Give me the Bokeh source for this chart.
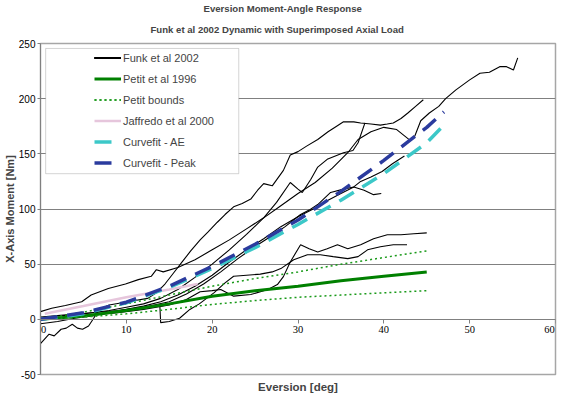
from bokeh.plotting import figure
from bokeh.models import (Range1d, FixedTicker, Title, Legend, LegendItem, BoxAnnotation,
                          LabelSet, ColumnDataSource)
from bokeh.embed import file_html
from bokeh.resources import INLINE

# ---------------- data ----------------
x_ticks = [0, 10, 20, 30, 40, 50, 60]
x_labels = ["0", "10", "20", "30", "40", "50", "60"]
y_ticks = [-50, 0, 50, 100, 150, 200, 250]
y_labels = ["-50", "0", "50", "100", "150", "200", "250"]
x_axis_crossing = 0

funk1_x = [0, 1.0, 1.6, 2.4, 3.0, 3.7, 4.3, 4.9, 5.6, 6.2, 6.8, 8.0, 9.5, 11.0, 12.5, 13.5, 14.5, 15.5,
           16.5, 17.5, 18.6, 19.5, 20.6, 21.5, 22.5, 23.5, 24.5, 25.3, 26.0, 27.0, 28.3, 29.1, 30.0, 31.0,
           32.3, 33.5, 34.5, 35.3, 36.5, 37.3, 38.5, 39.6, 40.4, 41.1, 42.0, 42.8, 43.7, 44.6]
funk1_y = [-22, -13.5, -15, -9, -8, -4.5, -8, -9, -6, 1, 9, 13, 15, 17, 19, 24, 32, 42,
           52, 62, 72, 79, 88, 95, 102, 105, 109, 117, 123, 121, 135, 149, 152, 157,
           163, 170, 175, 179, 179, 178, 177, 176, 177, 178, 182, 187, 193, 199]

funk2_x = [0, 1.3, 2.9, 4.8, 5.9, 7.9, 9.9, 11.4, 12.9, 13.5, 14.3, 16, 18, 20, 22, 24, 26, 28, 30,
           32, 34, 35.8, 37, 38.5, 40, 41.5, 42.3, 43.1, 43.6, 44.3, 45.3, 46.4, 47.2, 48.4, 50.0,
           51.2, 52.3, 53.5, 54.3, 55.1, 55.6]
funk2_y = [7, 10, 12.6, 16, 22, 28, 32, 36, 39, 45, 43, 47, 54, 63, 72, 82, 92, 103, 114,
           124, 137, 151, 163, 170, 174, 172, 167, 162, 166, 180, 187, 193, 200, 208, 217,
           223, 224, 229, 229, 226, 237]

funk3_x = [0, 2, 4, 6, 8, 10, 12, 14, 16, 18, 20, 22, 24, 26, 27.5, 29.1, 30, 30.5, 31.5, 32.3,
           33.4, 35.3, 36.4, 37, 37.8]
funk3_y = [1, 3, 4, 6, 8, 11, 14, 19, 27, 38, 50, 63, 77, 92, 106, 124, 118, 115, 127, 138,
           145, 151, 153, 160, 178]

funk4_x = [0, 3, 6, 9, 12, 15, 17, 19, 21, 23, 25, 27, 28.5, 30.3, 31.3, 32.3, 33.8, 35.3, 36.5,
           37.7, 38.8, 39.7]
funk4_y = [2, 4, 6, 8, 11, 16, 23, 32, 43, 55, 66, 76, 84, 95, 99, 104, 115, 118, 120,
           117, 113, 114]

funk5_x = [0, 2, 4, 6, 8, 10, 12, 14, 16, 18, 20, 22, 24, 26, 28, 30, 32, 33.5, 35, 36.5, 37.3,
           38.5, 39.8, 41, 42.4]
funk5_y = [-4, -2, 1, 3, 6, 9, 12, 16, 22, 30, 40, 52, 63, 73, 84, 93, 101, 108, 114, 120, 125,
           129, 134, 141, 148]

funk6_x = [0, 3, 6, 9, 12, 15, 17, 18.6, 20, 21, 22.5, 24.5, 26.5, 27.6, 28.3, 29.1, 30.3, 31.3,
           32.3, 33.4, 34.6, 35.8, 37.3, 38.8, 40.4, 42, 43.5, 45]
funk6_y = [1, 2, 4, 6, 9, 13, 18, 25, 26, 27, 21, 22.5, 27, 31.5, 38.7, 52, 67.6, 64,
           61, 64, 67.6, 64, 67.6, 73, 76.6, 76.6, 77.5, 78.4]

funk7_x = [13.9, 14.0, 15, 16.2, 17.4, 18.5, 20.2, 21.5, 22.5, 24, 25.6, 27, 28, 29.5, 31.1, 32.6,
           34.1, 35.8, 37, 38.1, 39.6, 41.1, 42.7]
funk7_y = [13, -3, -2, 1, 9, 14, 24, 33, 39, 40, 41, 43, 46, 54, 58.6, 58.6,
           56.8, 55, 56.8, 63, 65.8, 67.6, 67.6]

petit_x = [0, 5, 10, 15, 20, 25, 30, 35, 40, 45]
petit_y = [0, 3, 8, 14, 21, 26, 30, 35, 39, 43]
petit_upper = [0, 6.5, 14, 22, 30, 37, 43, 50, 56, 62]
petit_lower = [0, 2, 5, 9, 13.5, 17, 20, 22, 24, 26]

jaffredo_x = [0.5, 5, 10, 15, 18.3]
jaffredo_y = [5, 12, 20, 27, 32]

fit_x = [0, 5, 10, 15, 20, 25, 30, 35, 40, 45, 47]
fit_ae_y = [0, 5, 15, 29, 46, 65, 86, 108, 132, 160, 176]
fit_peak_y = [0, 6, 15.5, 30, 48, 68, 90, 116, 144, 174, 188]

# ---------------- figure ----------------
FONT = "Liberation Sans"

p = figure(width=560, height=396, output_backend="svg", toolbar_location=None,
           x_range=Range1d(0, 60), y_range=Range1d(-50, 250),
           min_border_left=0, min_border_right=5, min_border_top=41, min_border_bottom=22)

p.outline_line_color = "#a6a6a6"
p.outline_line_width = 1.5
p.background_fill_color = "white"

# y axis
p.yaxis.ticker = FixedTicker(ticks=y_ticks)
p.yaxis.major_label_overrides = dict(zip(y_ticks, y_labels))
p.yaxis.major_label_text_font = FONT
p.yaxis.major_label_text_font_size = "10px"
p.yaxis.major_label_text_color = "black"
p.yaxis.major_label_standoff = 2
p.yaxis.major_tick_out = 3
p.yaxis.major_tick_in = 0
p.yaxis.minor_tick_out = 0
p.yaxis.minor_tick_in = 0
p.yaxis.axis_line_color = "#808080"
p.yaxis.major_tick_line_color = "#808080"
p.yaxis.axis_label = "X-Axis Moment [Nm]"
p.yaxis.axis_label_text_font = FONT
p.yaxis.axis_label_text_font_size = "11px"
p.yaxis.axis_label_text_font_style = "bold"
p.yaxis.axis_label_standoff = 0

# x axis crossing at y = 0 (ticks from the axis, labels as a label set)
p.xaxis.fixed_location = x_axis_crossing
p.xaxis.ticker = FixedTicker(ticks=x_ticks)
p.xaxis.major_label_text_alpha = 0
p.xaxis.major_label_text_font_size = "10.5px"
p.xaxis.major_tick_out = 4
p.xaxis.major_tick_in = 0
p.xaxis.minor_tick_out = 0
p.xaxis.minor_tick_in = 0
p.xaxis.axis_line_color = "#808080"
p.xaxis.major_tick_line_color = "#808080"

# end labels nudged inward so the frame clip does not cut them
label_nudge = [3 if t == x_ticks[0] else (-6 if t == x_ticks[-1] else 0) for t in x_ticks]
xlab_src = ColumnDataSource(dict(x=x_ticks, y=[x_axis_crossing] * len(x_ticks), t=x_labels, dx=label_nudge))
p.add_layout(LabelSet(x="x", y="y", text="t", source=xlab_src, y_offset=-7, x_offset="dx",
                      text_align="center", text_baseline="top",
                      text_font=FONT, text_font_size="10.5px", text_color="black"))

p.xgrid.visible = False
p.ygrid.ticker = FixedTicker(ticks=y_ticks)
p.ygrid.grid_line_color = "#808080"
p.ygrid.grid_line_width = 1

# titles
p.add_layout(Title(text="Funk et al 2002 Dynamic with Superimposed Axial Load", align="left", offset=110,
                   text_font=FONT, text_font_size="9.6px", text_font_style="bold", standoff=17), "above")
p.add_layout(Title(text="Eversion Moment-Angle Response", align="left", offset=163,
                   text_font=FONT, text_font_size="9.6px", text_font_style="bold", standoff=0), "above")
p.add_layout(Title(text="Eversion [deg]", align="center",
                   text_font=FONT, text_font_size="11.5px", text_font_style="bold", standoff=8), "below")

# ---------------- glyphs ----------------
funk_curves = [(funk1_x, funk1_y), (funk2_x, funk2_y), (funk3_x, funk3_y), (funk4_x, funk4_y),
               (funk5_x, funk5_y), (funk6_x, funk6_y), (funk7_x, funk7_y)]
funk_renderers = [p.line(fx, fy, line_color="black", line_width=1.1) for fx, fy in funk_curves]

r_petit = p.line(petit_x, petit_y, line_color="#008000", line_width=3)
r_up = p.line(petit_x, petit_upper, line_color="#1a9a1a", line_width=1.5, line_dash="2 3")
r_lo = p.line(petit_x, petit_lower, line_color="#1a9a1a", line_width=1.5, line_dash="2 3")
r_jaf = p.line(jaffredo_x, jaffredo_y, line_color="#e6c6dc", line_width=2.5)
r_ae = p.line(fit_x, fit_ae_y, line_color="#3cc8c8", line_width=3.5, line_dash="17 10")
r_peak = p.line(fit_x, fit_peak_y, line_color="#2b3b9e", line_width=3.5, line_dash="17 10")

# legend box and legend
box = BoxAnnotation(left=0.6, right=23.1, top=245.5, bottom=132,
                    fill_color="white", fill_alpha=1.0, line_color="#707070", line_width=1)
p.add_layout(box)

legend = Legend(items=[
    LegendItem(label="Funk et al 2002", renderers=funk_renderers),
    LegendItem(label="Petit et al 1996", renderers=[r_petit]),
    LegendItem(label="Petit bounds", renderers=[r_up, r_lo]),
    LegendItem(label="Jaffredo et al 2000", renderers=[r_jaf]),
    LegendItem(label="Curvefit - AE", renderers=[r_ae]),
    LegendItem(label="Curvefit - Peak", renderers=[r_peak]),
], location=(54, 201), padding=0, spacing=0, margin=0,
   label_height=21, glyph_height=21, glyph_width=27, label_standoff=2,
   label_text_font=FONT, label_text_font_size="11px",
   border_line_alpha=0, background_fill_alpha=0)
p.add_layout(legend)

open("out.html", "w").write(file_html(p, INLINE))
